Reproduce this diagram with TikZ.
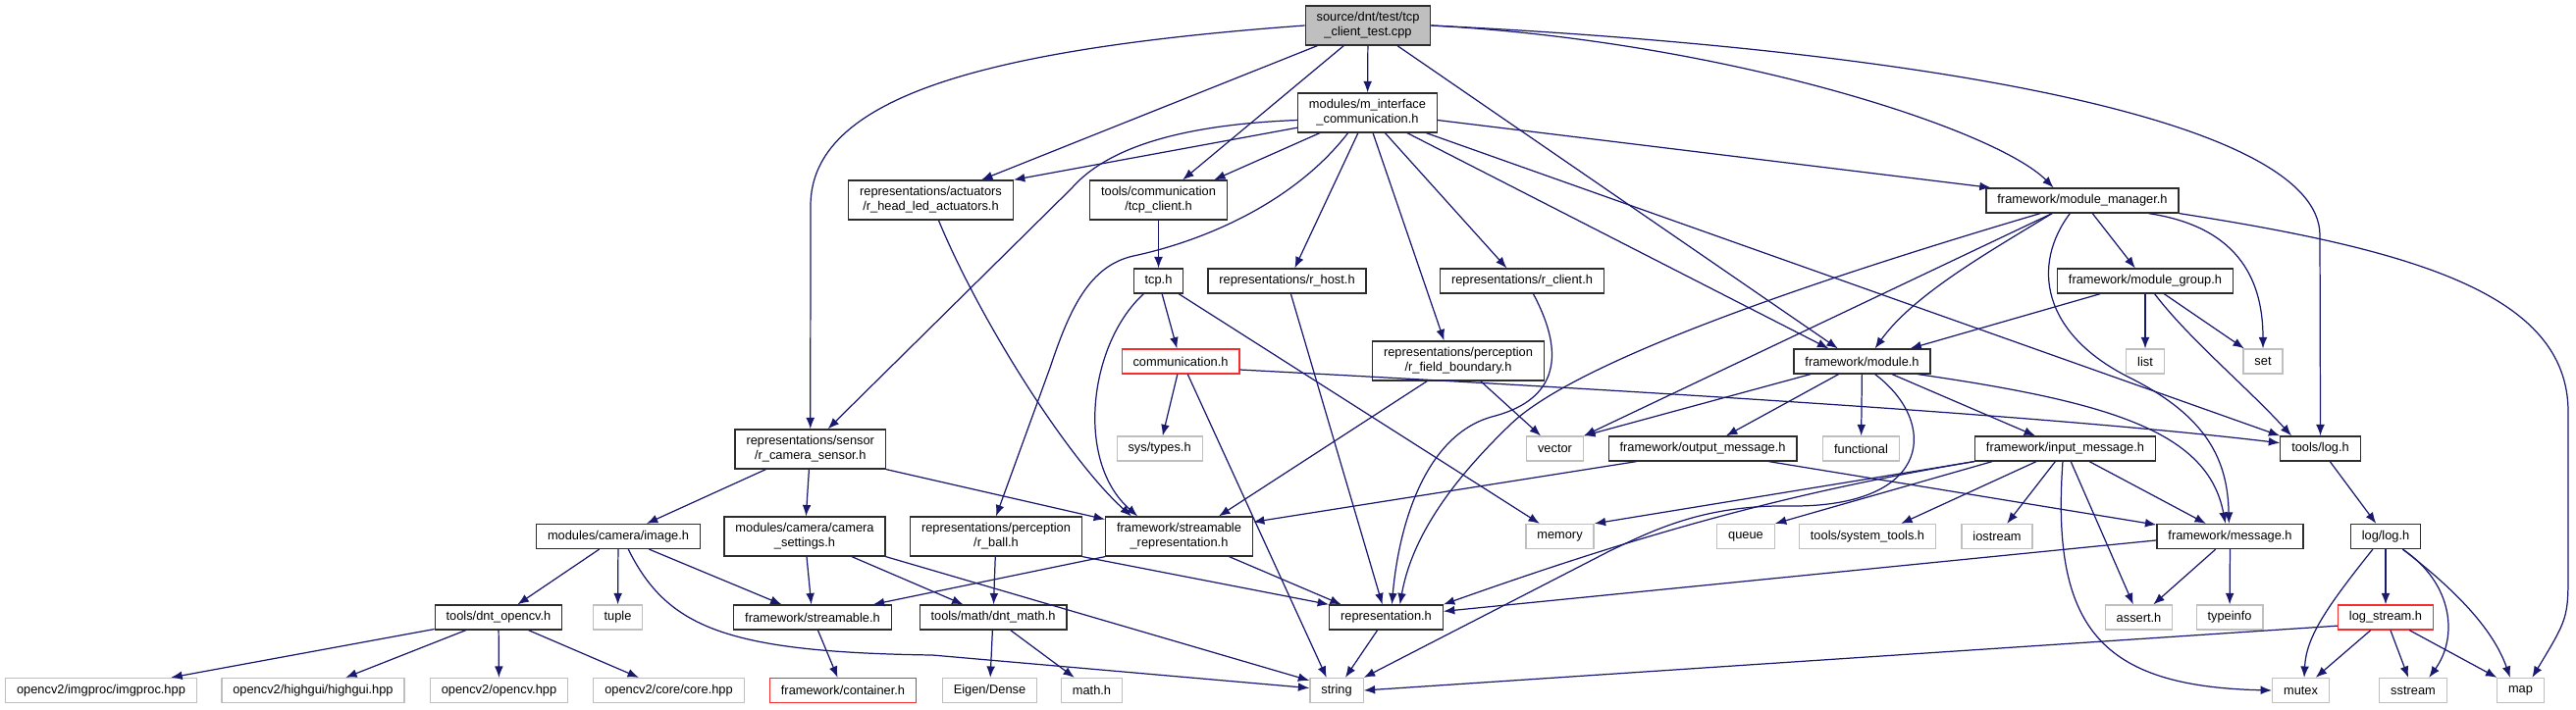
\documentclass[tikz,border=0pt]{standalone}
\usepackage{fontspec}
\setmainfont{Liberation Sans}
\usepackage{tikz}
\usetikzlibrary{arrows.meta}
\definecolor{EdgeNavy}{RGB}{25,25,112}
\definecolor{SoftGrey}{RGB}{191,191,191}
\definecolor{FrameGrey}{RGB}{45,45,45}
\definecolor{MissingRed}{RGB}{245,45,45}
\tikzset{
  header/.style={draw=FrameGrey,fill=white,line width=0.7pt,
    minimum height=0.5cm,inner xsep=6.5pt,inner ysep=0pt,align=center,
    font=\fontsize{7.3}{8.5}\selectfont},
  twoline/.style={header,minimum height=0.8cm},
  mainfile/.style={twoline,fill=SoftGrey},
  sysheader/.style={header,draw=SoftGrey},
  nodoc/.style={header,draw=MissingRed},
  incl/.style={-{Latex[length=6.5pt,width=5pt]},EdgeNavy,line width=0.7pt}
}

\begin{document}
\begin{tikzpicture}[x=0.02cm,y=-0.02cm]
  \useasboundingbox (0,0) rectangle (2625,723);
  % files, row by row
  \node[mainfile] (src) at (1394,26) {source/dnt/test/tcp\\\_client\_test.cpp};
  \node[twoline] (mic) at (1393.5,115) {modules/m\_interface\\\_communication.h};
  \node[twoline] (led) at (948.5,204) {representations/actuators\\/r\_head\_led\_actuators.h};
  \node[twoline] (tcpc) at (1180.5,204) {tools/communication\\/tcp\_client.h};
  \node[header] (mm) at (2122,204.5) {framework/module\_manager.h};
  \node[header] (tcp) at (1180.5,286.5) {tcp.h};
  \node[header] (host) at (1311.5,286.5) {representations/r\_host.h};
  \node[header] (client) at (1551,286.5) {representations/r\_client.h};
  \node[header] (mgroup) at (2186,286.5) {framework/module\_group.h};
  \node[nodoc] (comm) at (1203,368.5) {communication.h};
  \node[twoline] (fb) at (1486,368) {representations/perception\\/r\_field\_boundary.h};
  \node[header] (mod) at (1897.5,368.5) {framework/module.h};
  \node[sysheader] (list) at (2186,368.5) {list};
  \node[sysheader] (set) at (2306,368.5) {set};
  \node[twoline] (cams) at (825.75,458) {representations/sensor\\/r\_camera\_sensor.h};
  \node[sysheader] (systypes) at (1181.6,457.5) {sys/types.h};
  \node[sysheader] (vector) at (1584.5,457.5) {vector};
  \node[header] (outmsg) at (1735,457.5) {framework/output\_message.h};
  \node[sysheader] (functional) at (1896.5,457.5) {functional};
  \node[header] (inmsg) at (2104.5,457.5) {framework/input\_message.h};
  \node[header] (log) at (2364.5,457.5) {tools/log.h};
  \node[header] (image) at (630,547) {modules/camera/image.h};
  \node[twoline] (camset) at (820,547) {modules/camera/camera\\\_settings.h};
  \node[twoline] (rball) at (1015,547) {representations/perception\\/r\_ball.h};
  \node[twoline] (streamrep) at (1201.5,547) {framework/streamable\\\_representation.h};
  \node[sysheader] (memory) at (1589.5,547) {memory};
  \node[sysheader] (queue) at (1779,547) {queue};
  \node[sysheader] (systools) at (1903,547) {tools/system\_tools.h};
  \node[sysheader] (iostream) at (2035,547) {iostream};
  \node[header] (msg) at (2272.5,547) {framework/message.h};
  \node[header] (loglog) at (2431,547) {log/log.h};
  \node[header] (opencvh) at (508,629.5) {tools/dnt\_opencv.h};
  \node[sysheader] (tuple) at (629.5,629.5) {tuple};
  \node[header] (streamable) at (828,629.5) {framework/streamable.h};
  \node[header] (dntmath) at (1012,629.5) {tools/math/dnt\_math.h};
  \node[header] (rep) at (1412.5,629.5) {representation.h};
  \node[sysheader] (assert) at (2179.5,629.5) {assert.h};
  \node[sysheader] (typeinfo) at (2272,629.5) {typeinfo};
  \node[nodoc] (logstream) at (2431,629.5) {log\_stream.h};
  \node[sysheader] (imgproc) at (103,704) {opencv2/imgproc/imgproc.hpp};
  \node[sysheader] (highgui) at (319,704) {opencv2/highgui/highgui.hpp};
  \node[sysheader] (opencv) at (508.5,704) {opencv2/opencv.hpp};
  \node[sysheader] (core) at (681.5,704) {opencv2/core/core.hpp};
  \node[nodoc] (container) at (859,704) {framework/container.h};
  \node[sysheader] (eigen) at (1008.5,704) {Eigen/Dense};
  \node[sysheader] (mathh) at (1112.5,704) {math.h};
  \node[sysheader] (string) at (1362,704) {string};
  \node[sysheader] (mutex) at (2344.5,704) {mutex};
  \node[sysheader] (sstream) at (2459,704) {sstream};
  \node[sysheader] (map) at (2568.5,704) {map};
  % straight includes
  \foreach \a/\b in {src/mic, src/led, src/tcpc, src/mod.152,
      mic.192/led.north east, mic.203/tcpc.20, mic.-115/host.59,
      mic.-75/fb.125, mic.-49/client.140, mic.-27/mod.159,
      mic.-19/log.north west, mic.-6/mm.172,
      tcpc/tcp, tcp/comm, tcp/memory, host/rep, fb/vector,
      fb.-147/streamrep.27, comm/systypes, comm.-61/string.128,
      mm/mgroup, mm.-157/vector.north east, mgroup.-164/mod.15,
      mgroup/list, mgroup/set, mod.-166/vector.north east, mod/outmsg,
      mod/functional, mod/inmsg, outmsg.-169/streamrep.11,
      outmsg.-11/msg.171, inmsg.south west/memory.north east,
      inmsg.-170/queue.north east, inmsg.-156/systools.21, inmsg/iostream,
      inmsg/assert, inmsg/msg, msg/assert, msg/typeinfo, msg.-177/rep.6,
      log/loglog, loglog/logstream, logstream/mutex, logstream/sstream,
      logstream/map, logstream.-170/string.east,
      cams/image, cams/camset, cams.south east/streamrep.167,
      image/opencvh, image/tuple, image/streamable,
      camset/streamable, camset/dntmath, camset.south east/string.160,
      rball/dntmath, rball.south east/rep.north west,
      streamrep.-22/rep.164, streamrep.south west/streamable.12,
      streamable/container, dntmath/eigen, dntmath/mathh, rep/string,
      opencvh/imgproc, opencvh/highgui, opencvh/opencv, opencvh/core}
    \draw[incl] (\a) -- (\b);
  % curved includes
  \draw[incl] (src.west) .. controls (1000,50) and (826,100) .. (826,210) -- (cams.north);
  \draw[incl] (src.east) .. controls (1759,42) and (2034,132) .. (mm.156);
  \draw[incl] (src.east) .. controls (1950,50) and (2364,120) .. (2364,240) -- (log.north);
  \draw[incl] (mic.186) .. controls (1180,128) and (1120,160) .. (1092,192) -- (cams.49);
  \draw[incl] (mic.-134) .. controls (1320,205) and (1230,245) .. (1155,261)
    .. controls (1110,271) and (1090,315) .. (1070,375) -- (rball.north);
  \draw[incl] (led.-69) .. controls (1000,330) and (1090,470) .. (streamrep.157);
  \draw[incl] (tcp.-139) .. controls (1110,350) and (1095,470) .. (streamrep.154);
  \draw[incl] (client.-49) .. controls (1600,370) and (1580,410) .. (1520,425)
    .. controls (1450,445) and (1425,540) .. (rep.66);
  \draw[incl] (mm.-163) .. controls (1800,300) and (1600,375) .. (1540,432)
    .. controls (1490,480) and (1440,540) .. (rep.43);
  \draw[incl] (mm.-157) .. controls (2030,255) and (1950,300) .. (mod.45);
  \draw[incl] (mm.-11) .. controls (2285,232) and (2306,290) .. (set.north);
  \draw[incl] (mm.south east) .. controls (2460,255) and (2617,300) .. (2617,420)
    -- (2617,580) .. controls (2617,630) .. (map.48);
  \draw[incl] (mm.-134) .. controls (2070,270) and (2080,340) .. (2170,385)
    .. controls (2250,425) and (2270,470) .. (msg.95);
  \draw[incl] (mgroup.-54) .. controls (2230,345) and (2290,395) .. (log.156);
  \draw[incl] (mod.-13) .. controls (2150,410) and (2250,440) .. (msg.110);
  \draw[incl] (mod.-45) .. controls (1975,430) and (1970,515) .. (1830,516)
    .. controls (1740,514) and (1690,538) .. (1640,562) -- (string.north east);
  \draw[incl] (comm.-8) .. controls (1700,400) and (2100,425) .. (log.172);
  \draw[incl] (inmsg.-172) .. controls (1840,500) and (1700,535) .. (rep.north east);
  \draw[incl] (inmsg.-101) .. controls (2090,640) and (2140,700) .. (mutex.west);
  \draw[incl] (image.-52) .. controls (680,640) and (740,665) .. (950,668) -- (string.175);
  \draw[incl] (loglog.-135) .. controls (2370,620) and (2350,650) .. (mutex.75);
  \draw[incl] (loglog.-37) .. controls (2500,595) and (2505,650) .. (sstream.39);
  \draw[incl] (loglog.-37) .. controls (2500,600) and (2540,640) .. (map.129);
\end{tikzpicture}
\end{document}
